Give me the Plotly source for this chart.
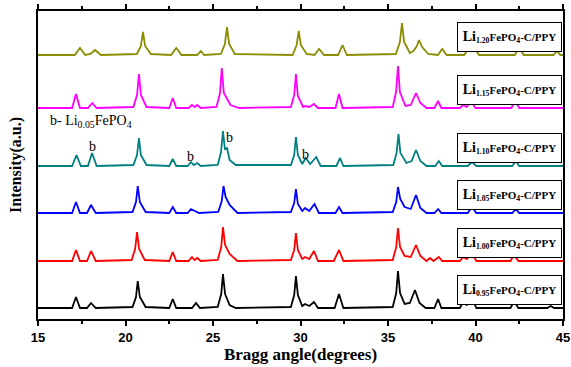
import plotly.graph_objects as go

# ---- data (2-theta in degrees, intensity in arbitrary units) ----
labels = ["1.20", "1.15", "1.10", "1.05", "1.00", "0.95"]
colors = ["#8c8c00", "#ff00ff", "#008080", "#0000ff", "#ff0000", "#000000"]
offsets = [264, 211, 153, 106, 58, 11]

x_120 = [15, 17.1, 17.4, 17.7, 18.0, 18.26, 18.6, 20.65, 20.88, 21.0, 21.12, 21.45, 22.6, 22.9, 23.2, 24.1, 24.3, 24.5,
         25.45, 25.68, 25.8, 25.92, 26.25, 29.55, 29.78, 29.9, 30.02, 30.35, 30.8, 31.06, 31.35, 32.15, 32.4, 32.65,
         35.45, 35.68, 35.8, 35.92, 36.25, 36.45, 36.65, 36.77, 36.95, 37.3, 37.85, 38.1, 38.35, 39.35, 39.6, 39.75,
         39.9, 40.2, 42.25, 42.5, 42.75, 44.45, 44.66, 44.85, 45]
y_120 = [0, 0, 7, 0, 1, 5, 0, 1, 9, 23, 9, 1, 0, 7, 0, 0, 4, 0,
         1, 11, 28, 11, 1, 0, 10, 24, 10, 1, 0, 6, 0, 0, 10, 0,
         1, 13, 32, 13, 2, 4, 9, 15, 8, 1, 0, 6, 0, 0, 6, 4,
         8, 0, 0, 8, 0, 0, 4, 0, 0]

x_115 = [15, 16.95, 17.17, 17.4, 17.85, 18.1, 18.35, 20.45, 20.66, 20.77, 20.88, 21.2, 22.5, 22.7, 22.9, 23.6, 23.8,
         23.95, 24.1, 24.3, 25.2, 25.4, 25.5, 25.62, 26.0, 26.5, 29.45, 29.64, 29.74, 29.85, 30.15, 30.26, 30.5, 30.77,
         31.0, 32.0, 32.2, 32.4, 35.27, 35.46, 35.57, 35.68, 36.0, 36.3, 36.6, 36.85, 37.2, 37.65, 37.86, 38.05, 39.1,
         39.3, 39.5, 39.74, 40.0, 42.05, 42.26, 42.5, 45]
y_115 = [0, 0, 14, 0, 0, 5, 0, 1, 13, 34, 13, 1, 0, 10, 0, 0, 3,
         1, 3, 0, 1, 15, 40, 15, 3, 0, 1, 13, 34, 12, 1, 2, 1, 4,
         0, 0, 14, 0, 1, 16, 42, 16, 2, 3, 15, 5, 0, 0, 7, 0, 0,
         3, 1, 7, 0, 0, 7, 0, 0]

x_110 = [15, 16.95, 17.2, 17.45, 17.85, 18.09, 18.35, 20.45, 20.66, 20.77, 20.88, 21.2, 22.5, 22.7, 22.9, 23.55, 23.74,
         23.9, 24.1, 24.3, 25.27, 25.46, 25.57, 25.68, 25.8, 25.95, 26.3, 29.45, 29.64, 29.74, 29.85, 30.1, 30.3, 30.55,
         30.9, 31.15, 32.05, 32.26, 32.45, 35.3, 35.49, 35.6, 35.71, 36.05, 36.35, 36.6, 36.85, 37.2, 37.7, 37.9, 38.1,
         39.55, 39.8, 40.05, 42.1, 42.3, 42.5, 45]
y_110 = [0, 0, 11, 0, 0, 13, 0, 1, 11, 28, 11, 1, 0, 7, 0, 0, 4,
         1, 3, 0, 1, 14, 35, 17, 18, 6, 1, 1, 11, 29, 11, 2, 8, 2,
         9, 0, 0, 8, 0, 1, 13, 32, 13, 3, 5, 16, 5, 0, 0, 5, 0,
         0, 4, 0, 0, 5, 0, 0]

x_105 = [15, 16.95, 17.17, 17.4, 17.8, 18.03, 18.3, 20.4, 20.6, 20.7, 20.82, 21.15, 22.5, 22.7, 22.9, 23.55, 23.74,
         23.95, 24.2, 25.3, 25.5, 25.6, 25.72, 25.95, 26.4, 29.45, 29.64, 29.74, 29.85, 30.1, 30.26, 30.5, 30.8, 31.05,
         32.0, 32.2, 32.4, 35.27, 35.47, 35.57, 35.7, 35.95, 36.3, 36.6, 36.85, 37.2, 37.65, 37.86, 38.05, 39.55, 39.8,
         40.05, 42.1, 42.3, 42.5, 45]
y_105 = [0, 0, 11, 0, 0, 8, 0, 1, 11, 27, 11, 1, 0, 6, 0, 0, 4,
         2, 0, 1, 12, 27, 16, 8, 0, 1, 10, 24, 9, 2, 5, 2, 9, 0,
         0, 6, 0, 1, 11, 26, 14, 6, 4, 18, 5, 0, 0, 4, 0, 0, 6,
         0, 0, 4, 0, 0]

x_100 = [15, 16.95, 17.17, 17.4, 17.8, 18.03, 18.3, 20.35, 20.55, 20.66, 20.78, 21.1, 22.5, 22.7, 22.9, 23.6, 23.8,
         23.95, 24.1, 24.3, 25.27, 25.47, 25.57, 25.69, 25.95, 26.4, 29.45, 29.64, 29.74, 29.85, 30.1, 30.26, 30.5,
         30.77, 31.0, 31.9, 32.2, 32.45, 35.27, 35.47, 35.57, 35.69, 35.95, 36.3, 36.6, 36.85, 37.2, 37.4, 37.6, 37.9,
         38.1, 39.1, 39.3, 39.5, 39.8, 40.05, 42.0, 42.2, 42.45, 45]
y_100 = [0, 0, 11, 0, 0, 10, 0, 1, 12, 29, 12, 1, 0, 9, 0, 0, 4,
         1, 3, 0, 1, 14, 34, 16, 7, 0, 1, 11, 28, 11, 2, 4, 2,
         10, 0, 0, 11, 0, 1, 14, 33, 14, 5, 4, 16, 5, 0, 3, 0, 4,
         0, 0, 4, 2, 8, 0, 0, 6, 0, 0]

x_095 = [15, 16.95, 17.17, 17.4, 17.8, 18.03, 18.3, 20.4, 20.6, 20.7, 20.82, 21.15, 22.5, 22.7, 22.9, 23.8, 24.03,
         24.25, 25.27, 25.47, 25.57, 25.69, 25.95, 26.3, 29.45, 29.64, 29.74, 29.85, 30.1, 30.26, 30.5, 30.77, 31.0,
         31.95, 32.2, 32.45, 35.27, 35.47, 35.57, 35.69, 35.95, 36.25, 36.54, 36.8, 37.15, 37.65, 37.86, 38.05, 39.1,
         39.3, 39.5, 39.8, 40.05, 42.0, 42.2, 42.45, 44.1, 44.3, 44.5, 45]
y_095 = [0, 0, 11, 0, 0, 5, 0, 1, 11, 27, 11, 1, 0, 9, 0, 0, 5,
         0, 1, 14, 34, 14, 3, 0, 1, 13, 32, 13, 2, 4, 2, 6, 0,
         0, 14, 0, 1, 15, 37, 15, 4, 5, 18, 5, 0, 0, 9, 0, 0,
         6, 3, 10, 0, 0, 7, 0, 0, 2, 0, 0]

xs = [x_120, x_115, x_110, x_105, x_100, x_095]
ys = [y_120, y_115, y_110, y_105, y_100, y_095]

# impurity marks (b = Li0.05FePO4)
b_x = [18.14, 23.74, 25.97, 30.26]
b_y = [173, 163, 182, 165]

serif = "Liberation Serif, Times New Roman, serif"
sans = "Liberation Sans, Arial, sans-serif"

fig = go.Figure()
for lab, col, off, x, y in zip(labels, colors, offsets, xs, ys):
    fig.add_trace(go.Scatter(
        x=x, y=[off + v for v in y], mode="lines",
        line=dict(color=col, width=1.8), name="Li" + lab, showlegend=False,
    ))

# legend boxes
for lab, off in zip(labels, offsets):
    fig.add_annotation(
        xref="paper", x=0.998, xanchor="right",
        y=off + 18, yanchor="middle",
        text=f"<b><span style='font-size:14px'>Li</span><sub>{lab}</sub>FePO<sub>4</sub>-C/PPY</b>",
        showarrow=False, font=dict(family=serif, size=11, color="black"),
        bordercolor="black", borderwidth=1, bgcolor="white",
        width=97, height=22, borderpad=3, align="center",
    )

fig.add_annotation(
    x=15.55, y=198, xanchor="left", yanchor="middle", showarrow=False,
    text="b- Li<sub>0.05</sub>FePO<sub>4</sub>",
    font=dict(family=serif, size=14, color="black"),
)
for bx, by in zip(b_x, b_y):
    fig.add_annotation(x=bx, y=by, text="b", showarrow=False,
                       font=dict(family=serif, size=14, color="black"))

fig.update_layout(
    width=571, height=367,
    margin=dict(l=38, r=8, t=11, b=48),
    paper_bgcolor="white", plot_bgcolor="white",
)
fig.update_xaxes(
    range=[15, 45], dtick=5, tick0=15, automargin=False,
    showline=True, linecolor="black", linewidth=2, mirror="ticks",
    ticks="outside", ticklen=5, tickwidth=2, tickcolor="black",
    minor=dict(dtick=2.5, tick0=15, ticks="outside", ticklen=3, tickwidth=2, tickcolor="black"),
    showgrid=False, zeroline=False,
    tickfont=dict(family=sans, size=13, color="black", weight="bold"),
    title=dict(text="<b>Bragg angle(degrees)</b>", standoff=4,
               font=dict(family=serif, size=17, color="black")),
)
fig.update_yaxes(
    range=[0, 308], showticklabels=False, ticks="", automargin=False,
    showline=True, linecolor="black", linewidth=2, mirror=True,
    showgrid=False, zeroline=False,
    title=dict(text="<b>Intensity(a.u.)</b>", standoff=10,
               font=dict(family=serif, size=16, color="black")),
)

fig.write_html("out.html", config={"displayModeBar": False},
               post_script="document.body.style.margin='0';document.body.style.overflow='hidden';")
